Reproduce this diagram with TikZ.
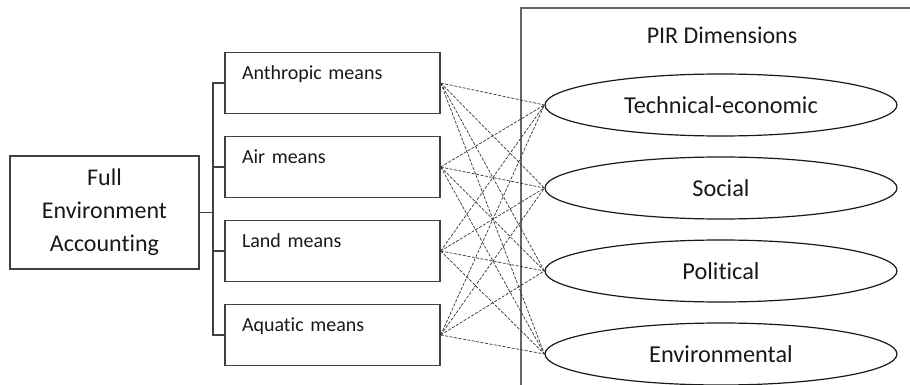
\documentclass[tikz,border=0pt]{standalone}
\usepackage{fontspec}
\setmainfont{Carlito}[Ligatures=NoCommon]
\usetikzlibrary{shapes.geometric,calc}
\tikzset{
    frame/.style={draw=black!75, line width=1.4pt},
    meanbox/.style={frame, text width=181pt, align=left, inner xsep=17pt, inner ysep=7pt,
      text height=20pt, text depth=27pt, font=\fontsize{20}{24}\selectfont},
    dimension/.style={draw=black!90, line width=1.2pt, ellipse, minimum width=352pt,
      minimum height=62pt, inner sep=0pt, font=\fontsize{24.3}{28}\selectfont},
    link/.style={draw=black!80, line width=0.7pt, dash pattern=on 3pt off 1.5pt},
  }

\begin{document}
\begin{tikzpicture}[x=1pt,y=-1pt,color=black!90]
				  %cadre : (910,8) -| (521,385)
				  %arbre : (moyen.west) -| (tronc)
				  \useasboundingbox (0,0) rectangle (910,385);
				  \coordinate(tronc) at (213,212.5);

				  \draw[frame, draw=black!60, line width=1.5pt] (910,8) -| (521,385);
				  \node(pir) at (722,35) [font=\fontsize{24}{28}\selectfont] {PIR Dimensions};

				  \node(fea) at (104.5,212.5) [frame, minimum width=189pt, minimum height=113pt, align=center,
				        font=\fontsize{24}{33}\selectfont] {Full\\Environment\\Accounting};

				  \node(anthro) at (332.5,83) [meanbox] {Anthropic means};
				  \node(air) at (332.5,167) [meanbox] {Air means};
				  \node(land) at (332.5,251) [meanbox] {Land means};
				  \node(aqua) at (332.5,335) [meanbox] {Aquatic means};

				  \node(tech) at (721,105) [dimension] {Technical-economic};
				  \node(social) at (721,188) [dimension] {Social};
				  \node(polit) at (721,271) [dimension] {Political};
				  \node(envir) at (721,354) [dimension] {Environmental};

				  \draw[frame] (fea.east) -- (tronc);
				  \foreach \m in {anthro,air,land,aqua}
				    \draw[frame] (\m.west) -| (tronc);

				  \foreach \m in {anthro,air,land,aqua}
				    \foreach \d in {tech,social,polit,envir}
				      \draw[link] (\m.east) -- (\d.west);
				  \end{tikzpicture}
\end{document}
